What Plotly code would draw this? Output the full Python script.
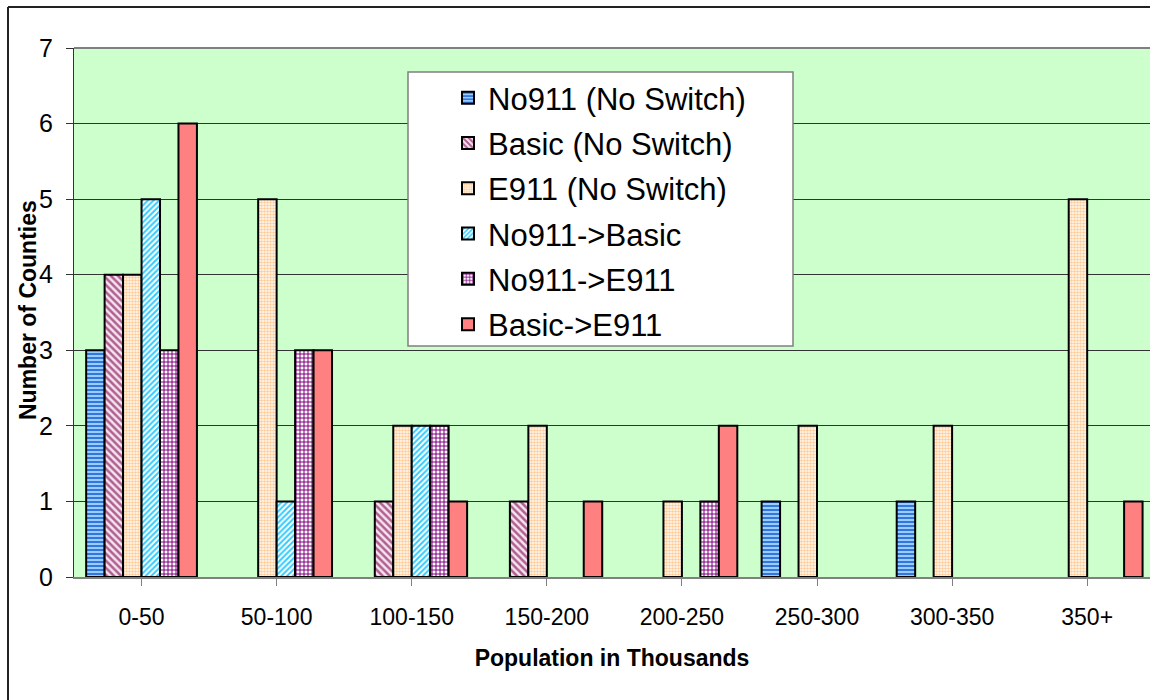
import plotly.graph_objects as go

# Population bands (thousands)
categories = ["0-50", "50-100", "100-150", "150-200", "200-250", "250-300", "300-350", "350+"]

# Number of counties per band for each 911 status
no911_no_switch = [3, 0, 0, 0, 0, 1, 1, 0]
basic_no_switch = [4, 0, 1, 1, 0, 0, 0, 0]
e911_no_switch = [4, 5, 2, 2, 1, 2, 2, 5]
no911_to_basic = [5, 1, 2, 0, 0, 0, 0, 0]
no911_to_e911 = [3, 3, 2, 0, 1, 0, 0, 0]
basic_to_e911 = [6, 3, 1, 1, 2, 0, 0, 1]

series = [
    ("No911 (No Switch)", no911_no_switch, dict(shape="-", bgcolor="#99CCFF", fgcolor="#3377DD", size=4, solidity=0.5)),
    ("Basic (No Switch)", basic_no_switch, dict(shape="\\", bgcolor="#F4E4F0", fgcolor="#B0608F", size=5, solidity=0.5)),
    ("E911 (No Switch)", e911_no_switch, dict(shape=".", bgcolor="#FFFFFF", fgcolor="#FFCC99", size=3, solidity=0.6)),
    ("No911->Basic", no911_to_basic, dict(shape="/", bgcolor="#FFFFFF", fgcolor="#33CCFF", size=4, solidity=0.5)),
    ("No911->E911", no911_to_e911, dict(shape="+", bgcolor="#FFFFFF", fgcolor="#800080", size=4, solidity=0.45)),
    ("Basic->E911", basic_to_e911, None),
]

W, H = 1150, 700
ML, MT, MR, MB = 74, 48, 0, 123
FONT = "Arial, Liberation Sans, sans-serif"

fig = go.Figure()
for i, (name, vals, pattern) in enumerate(series):
    # empty bins get no outline so they don't show as a flat line
    widths = [2 if v > 0 else 0 for v in vals]
    marker = dict(line=dict(color="#000000", width=widths))
    if pattern is None:
        marker["color"] = "#FF8080"
    else:
        marker["color"] = pattern["bgcolor"]
        marker["pattern"] = dict(
            shape=pattern["shape"],
            bgcolor=pattern["bgcolor"],
            fgcolor=pattern["fgcolor"],
            fillmode="replace",
            size=pattern["size"],
            solidity=pattern["solidity"],
        )
    fig.add_trace(go.Bar(
        x=list(range(len(categories))),
        y=vals,
        name=name,
        legendgroup=f"g{i}",
        marker=marker,
    ))

pw = W - ML - MR
ph = H - MT - MB

def px_x(p):
    return (p - ML) / pw

def px_y(p):
    return (H - MB - p) / ph

# Outer chart border (left and top edges)
for x0, y0, x1, y1 in [(8, 7, 8, 705), (8, 7, 1160, 7)]:
    fig.add_shape(type="line", xref="paper", yref="paper",
                  x0=px_x(x0), y0=px_y(y0), x1=px_x(x1), y1=px_y(y1),
                  line=dict(color="#222222", width=2), layer="above")

# Legend frame
fig.add_shape(type="rect", xref="paper", yref="paper",
              x0=px_x(408), x1=px_x(793), y0=px_y(72), y1=px_y(346),
              fillcolor="#FFFFFF", line=dict(color="#808080", width=1.5), layer="above")

# Plot area top edge
fig.add_shape(type="line", xref="paper", yref="paper", x0=0, x1=1, y0=1, y1=1,
              line=dict(color="#808080", width=2), layer="above")

# Vertical axis title
fig.add_annotation(
    text="<b>Number of Counties</b>", textangle=-90,
    xref="paper", yref="paper", x=px_x(28), y=px_y(310),
    xanchor="center", yanchor="middle", showarrow=False,
    font=dict(size=23, family=FONT, color="#000000"),
)

fig.update_layout(
    width=W, height=H,
    margin=dict(l=ML, r=MR, t=MT, b=MB),
    paper_bgcolor="#FFFFFF",
    plot_bgcolor="#CCFFCC",
    barmode="group",
    bargap=0.18,
    bargroupgap=0.0,
    font=dict(family=FONT, color="#000000"),
    showlegend=True,
    legend=dict(
        x=px_x(448), y=px_y(71), xanchor="left", yanchor="top",
        bgcolor="rgba(0,0,0,0)", borderwidth=0,
        font=dict(size=31, family=FONT),
        tracegroupgap=2,
    ),
    xaxis=dict(
        tickmode="array",
        tickvals=list(range(len(categories))),
        ticktext=categories,
        range=[-0.5, 7.465],
        ticks="outside", tickson="boundaries", ticklen=7, tickcolor="#808080",
        tickfont=dict(size=23),
        ticklabelstandoff=11,
        showgrid=False, zeroline=False,
        showline=True, linecolor="#808080", linewidth=2,
        title=dict(text="<b>Population in Thousands</b>", font=dict(size=23), standoff=21),
    ),
    yaxis=dict(
        range=[0, 7],
        tickvals=list(range(0, 8)),
        ticks="outside", ticklen=7, tickcolor="#333333",
        tickfont=dict(size=25),
        ticklabelstandoff=8,
        showgrid=True, gridcolor="#333333", gridwidth=1,
        zeroline=False,
        showline=True, linecolor="#333333", linewidth=1,
    ),
)

fig.write_html("out.html")
